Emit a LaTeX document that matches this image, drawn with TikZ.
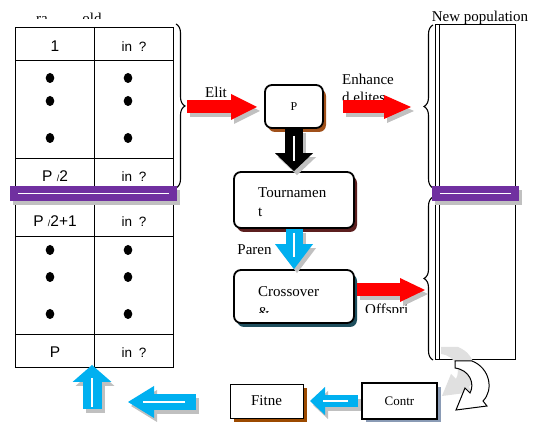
\documentclass[tikz,border=0pt]{standalone}
\usepackage{fontspec}
\setmainfont{Liberation Serif}
\newfontfamily\cellfont{Liberation Sans}
\usetikzlibrary{arrows.meta,shadows,decorations.pathreplacing}

\definecolor{eliteRed}{HTML}{FF0000}
\definecolor{flowBlue}{HTML}{00B0F0}
\definecolor{barPurple}{HTML}{7030A0}
\definecolor{shadowGrey}{HTML}{C0C0C0}
\definecolor{pShadow}{HTML}{A0501A}
\definecolor{tourShadow}{HTML}{5C1F1F}
\definecolor{crossShadow}{HTML}{1F4F5E}
\definecolor{fitShadow}{HTML}{9C4A00}
\definecolor{contrShadow}{HTML}{8A9BB5}

% outline of the curved return arrow
\newcommand{\uturnpath}{(455,361) -- (472,361) .. controls (490,368) and (494,390) .. (483,401) -- (487,406) -- (456,410) -- (465,388) -- (470,393) .. controls (475,384) and (470,370) .. (455,368) -- cycle}

\begin{document}
\begin{tikzpicture}[
    x=1pt, y=-1pt,
    cell/.style={font=\cellfont\fontsize{15.5}{17}\selectfont, anchor=base, inner sep=0pt},
    lbl/.style={font=\fontsize{15}{17}\selectfont, anchor=base, inner sep=0pt},
    stepbox/.style={draw, line width=1.8pt, rounded corners=7pt, fill=white, inner sep=0pt,
        drop shadow={shadow xshift=3pt, shadow yshift=-4pt, fill=#1, opacity=1}},
    flatbox/.style={draw, fill=white, inner sep=0pt,
        drop shadow={shadow xshift=4pt, shadow yshift=-4pt, fill=#1, opacity=1}},
    sepbar/.style={fill=barPurple, inner sep=0pt, minimum height=15,
        drop shadow={shadow xshift=3pt, shadow yshift=-4pt, fill=shadowGrey, opacity=1}},
    bracket/.style={decorate, decoration={brace, amplitude=9pt}, line width=1.1pt},
    whiteline/.style={white, line width=1.3pt}
]
    \path[use as bounding box, fill=white] (0,0) rectangle (539,422);

    % old population table
    \node[draw, minimum width=158, minimum height=340, inner sep=0] (oldpop) at (94,197) {};
    \draw (oldpop.north) -- (oldpop.south);
    \foreach \y in {60,158,236,334}
        \draw (15,\y) -- (173,\y);
    \foreach \y in {78,101,138,250,277,314} {
        \fill (50,\y) ellipse (4.3pt and 5pt);
        \fill (128,\y) ellipse (4.3pt and 5pt);
    }
    \foreach \y/\lab [count=\i] in {52/1, 182/{P {\fontsize{9}{9}\selectfont/}2}, 227/{P {\fontsize{9}{9}\selectfont/}2+1}, 358/P} {
        \node[cell] (rank\i) at (55,\y) {\lab};
        \node[cell, font=\cellfont\fontsize{13.5}{15}\selectfont] (inq\i) at (134,\y) {in\enspace?};
    }
    \begin{scope}
        \clip (0,0) rectangle (200,18.5);
        \node[lbl] (raTxt) at (42,23.5) {ra};
        \node[lbl] (oldTxt) at (92,23.5) {old};
    \end{scope}
    \draw[bracket] (176,24) -- (176,188);
    \node[sepbar, minimum width=167] (barL) at (93.5,193.5) {};
    \draw[whiteline] ([xshift=8pt]barL.west) -- ([xshift=-8pt]barL.east);

    % new population column
    \node[draw, line width=1pt, minimum width=80, minimum height=335, inner sep=0] (newpop) at (475,192.5) {};
    \draw ([xshift=5pt]newpop.north west) -- ([xshift=5pt]newpop.south west);
    \begin{scope}
        \clip (400,0) rectangle (539,24);
        \node[lbl] (newTxt) at (480,22) {New population};
    \end{scope}
    \draw[bracket] (433,188) -- (433,25);
    \draw[bracket] (433,360) -- (433,197);
    \node[sepbar, minimum width=87] (barR) at (475.5,193.5) {};
    \draw[whiteline] ([xshift=8pt]barR.west) -- ([xshift=-8pt]barR.east);

    % flow boxes
    \node[stepbox=pShadow, minimum width=58, minimum height=43, font=\fontsize{12}{14}\selectfont] (pbox) at (294,106.5) {P};
    \node[stepbox=tourShadow, minimum width=120, minimum height=56] (tourn) at (294,200) {};
    \node[stepbox=crossShadow, minimum width=120, minimum height=53] (cross) at (294,296.5) {};
    \node[flatbox=fitShadow, line width=0.8pt, minimum width=73, minimum height=34, font=\fontsize{15}{17}\selectfont] (fitne) at (266.5,401) {Fitne};
    \node[flatbox=contrShadow, line width=2pt, minimum width=75, minimum height=36, font=\fontsize{13}{15}\selectfont] (contr) at (399.5,401) {Contr};

    \node[lbl, anchor=base west] (tournA) at (258,198) {Tournamen};
    \node[lbl, anchor=base west] (tournB) at (258,217) {t};
    \node[lbl, anchor=base west] (crossA) at (258,297) {Crossover};
    \begin{scope}
        \clip (240,280) rectangle (350,313);
        \node[lbl, anchor=base west] (crossB) at (258,318) {\&};
    \end{scope}

    % arrow labels
    \node[lbl] (elitTxt) at (216,98) {Elit};
    \node[lbl, anchor=base west] (enhA) at (342,85) {Enhance};
    \node[lbl, anchor=base west] (enhB) at (342,103) {d elites};
    \node[lbl] (parenTxt) at (254.5,255) {Paren};
    \begin{scope}
        \clip (350,290) rectangle (430,313);
        \node[lbl, anchor=base west] (offTxt) at (365,315) {Offspri};
    \end{scope}

    % arrow ends
    \coordinate (tipL) at (187,107);
    \coordinate (pIn) at (257,107);
    \coordinate (pOut) at (343,107);
    \coordinate (enhEnd) at (411,107);
    \coordinate (offStart) at (357,290);
    \coordinate (offEnd) at (425,290);
    \coordinate (contrOut) at (358,401);
    \coordinate (fitIn) at (310,401);
    \coordinate (backStart) at (196,402);
    \coordinate (backEnd) at (128,402);
    \coordinate (upStart) at (92,409);
    \coordinate (upEnd) at (92,365);

    % block arrows: from/to/colour/shaft/head width/head length
    \foreach \src/\dst/\col/\sw/\hw/\hl in {
        tipL/pIn/eliteRed/13/26/26,
        pOut/enhEnd/eliteRed/13/24/27,
        offStart/offEnd/eliteRed/13/24/25,
        pbox.south/tourn.north/black/18/38/18,
        tourn.south/cross.north/flowBlue/17/38/25,
        contrOut/fitIn/flowBlue/12/28/15,
        backStart/backEnd/flowBlue/16/32/26,
        upStart/upEnd/flowBlue/19/39/17} {
        \draw[shadowGrey, line width=\sw pt, -{Triangle[length=\hl pt, width=\hw pt, line width=0pt]},
            transform canvas={shift={(3pt,-4pt)}}] (\src) -- (\dst);
        \draw[\col, line width=\sw pt, -{Triangle[length=\hl pt, width=\hw pt, line width=0pt]}] (\src) -- (\dst);
    }
    \foreach \src/\dst/\sa/\sb in {pbox.south/tourn.north/7/10, tourn.south/cross.north/4/12,
        contrOut/fitIn/10/13, backStart/backEnd/11/15, upStart/upEnd/2/13}
        \draw[whiteline, shorten <=\sa pt, shorten >=\sb pt] (\src) -- (\dst);

    % return arrow
    \fill[black!12, shift={(-14,-14)}] \uturnpath;
    \draw[fill=white, line width=1pt] \uturnpath;
\end{tikzpicture}
\end{document}
